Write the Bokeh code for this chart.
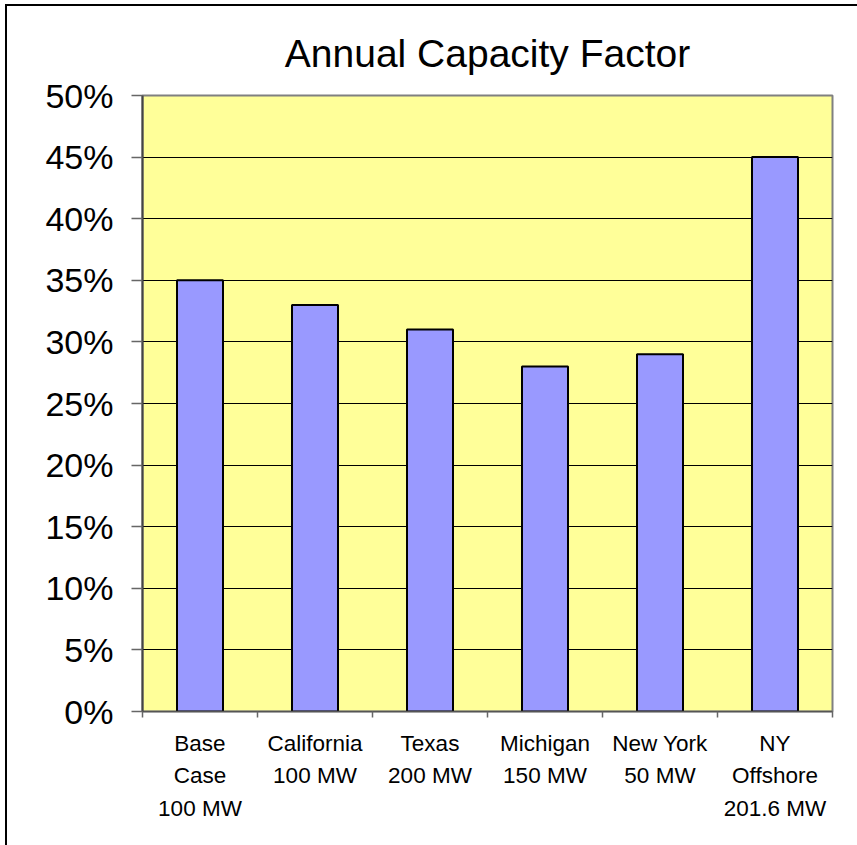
from bokeh.plotting import figure
from bokeh.layouts import column
from bokeh.models import Range1d, FixedTicker, NumeralTickFormatter, Title
from bokeh.embed import file_html
from bokeh.resources import INLINE

# Annual capacity factor by site
categories = ["Base\nCase\n100 MW", "California\n100 MW", "Texas\n200 MW",
              "Michigan\n150 MW", "New York\n50 MW", "NY\nOffshore\n201.6 MW"]
capacity_factor = [0.35, 0.33, 0.31, 0.28, 0.29, 0.45]
y_ticks = [0.0, 0.05, 0.10, 0.15, 0.20, 0.25, 0.30, 0.35, 0.40, 0.45, 0.50]

FONT = "Liberation Sans"

n = len(categories)
centers = [i + 0.5 for i in range(n)]
bounds = [float(i) for i in range(n + 1)]

p = figure(width=850, height=839, output_backend="svg", toolbar_location=None,
           x_range=Range1d(0, n), y_range=Range1d(0, 0.5),
           min_border_left=135, min_border_right=25,
           min_border_top=89, min_border_bottom=134,
           background_fill_color="#FFFF99", border_fill_color="white",
           outline_line_color="#808080", outline_line_width=2)

p.vbar(x=centers, top=capacity_factor, width=0.4, bottom=0,
       fill_color="#9999FF", line_color="black", line_width=2)

# title
p.title = None
title = Title(text="Annual Capacity Factor", align="center", offset=-11,
              text_font=FONT, text_font_size="39px", text_font_style="normal",
              text_color="black", standoff=41)
p.add_layout(title, "above")

# y axis
p.yaxis.ticker = FixedTicker(ticks=y_ticks)
p.yaxis.formatter = NumeralTickFormatter(format="0%")
p.yaxis.major_label_text_font = FONT
p.yaxis.major_label_text_font_size = "34px"
p.yaxis.major_label_text_color = "black"
p.yaxis.major_label_standoff = 18
p.yaxis.major_tick_out = 11
p.yaxis.major_tick_in = 0
p.yaxis.major_tick_line_color = "#666666"
p.yaxis.major_tick_line_width = 1.5
p.yaxis.minor_tick_line_color = None
p.yaxis.axis_line_color = "#444444"
p.yaxis.axis_line_width = 2

# x axis: labels at category centres, ticks at category boundaries
p.xaxis.ticker = FixedTicker(ticks=centers, minor_ticks=bounds)
p.xaxis.major_label_overrides = {c: lab for c, lab in zip(centers, categories)}
p.xaxis.major_label_text_font = FONT
p.xaxis.major_label_text_font_size = "22.5px"
p.xaxis.major_label_text_color = "black"
p.xaxis.major_label_text_line_height = 1.3
p.xaxis.major_label_standoff = 13
p.xaxis.major_tick_line_color = None
p.xaxis.major_tick_out = 0
p.xaxis.major_tick_in = 0
p.xaxis.minor_tick_line_color = "#666666"
p.xaxis.minor_tick_line_width = 1.5
p.xaxis.minor_tick_out = 6
p.xaxis.minor_tick_in = 0
p.xaxis.axis_line_color = "#555555"
p.xaxis.axis_line_width = 1.5

# grid
p.xgrid.grid_line_color = None
p.ygrid.ticker = FixedTicker(ticks=y_ticks)
p.ygrid.grid_line_color = "black"
p.ygrid.grid_line_width = 1

# chart border along the top and left edges
page = column(p, styles={"border-top": "2px solid black",
                         "border-left": "2px solid black",
                         "margin-left": "5px", "margin-top": "4px"})

open("out.html", "w").write(file_html(page, INLINE))
